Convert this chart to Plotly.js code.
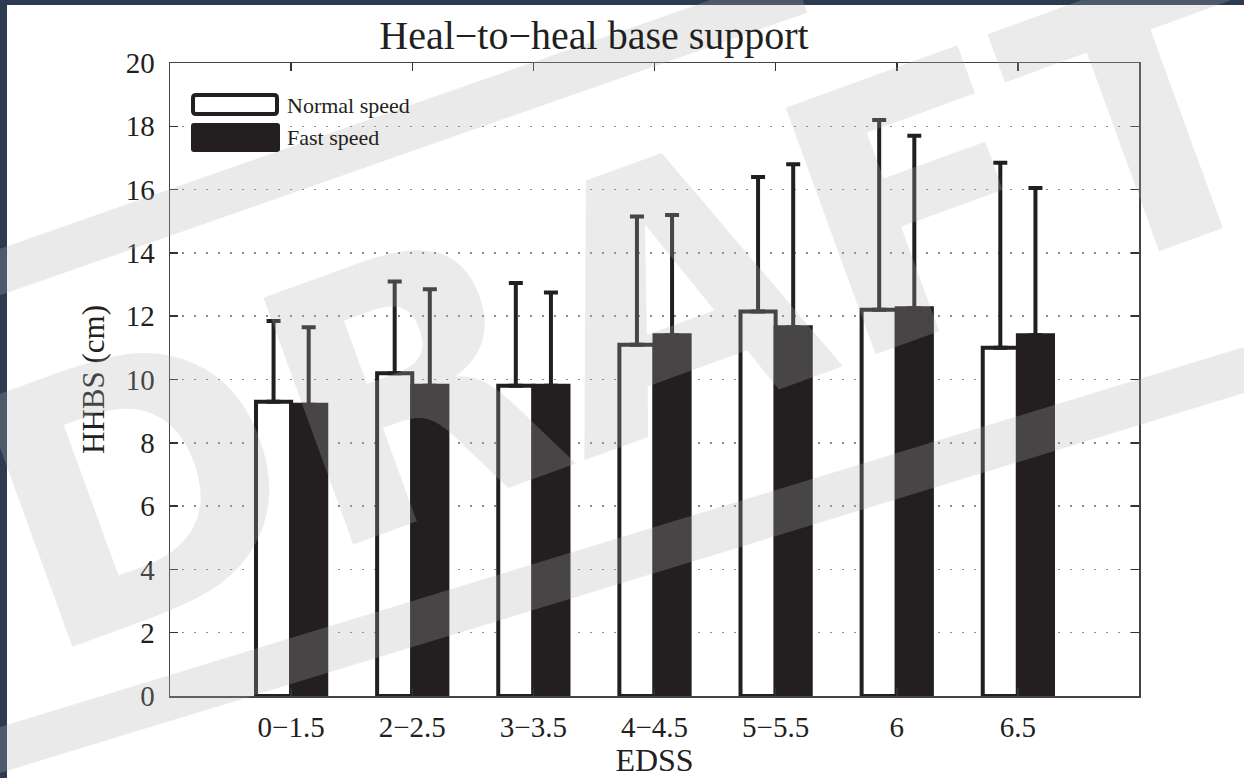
<!DOCTYPE html>
<html>
<head>
<meta charset="utf-8">
<script src="https://cdn.plot.ly/plotly-3.0.1.min.js"></script>
<style>
  html, body { margin: 0; padding: 0; background: #ffffff; }
  #chart { width: 1244px; height: 778px; }
</style>
</head>
<body>
<div id="chart"></div>
<script>
// EDSS groups on the x axis
const categories = ['0\u22121.5', '2\u22122.5', '3\u22123.5', '4\u22124.5', '5\u22125.5', '6', '6.5'];

// Heel-to-heel base support (cm), mean and SD per group
const normalMean = [9.3, 10.2, 9.8, 11.1, 12.15, 12.2, 11.0];
const normalSD   = [2.55, 2.9, 3.25, 4.05, 4.25, 6.0, 5.85];
const fastMean   = [9.2, 9.8, 9.8, 11.4, 11.65, 12.25, 11.4];
const fastSD     = [2.45, 3.05, 2.95, 3.8, 5.15, 5.45, 4.65];

const seriesNames = ['Normal speed', 'Fast speed'];

const INK = '#231f20';
const FONT = 'Liberation Serif, Times New Roman, serif';
const zeros = categories.map(() => 0);

// plot area in page pixels, used to place paper-referenced extras
const L = 170, R = 1139, T = 63, B = 696;
const px = x => (x - L) / (R - L);
const py = y => (B - y) / (B - T);

function roundedRect(x0, y0, x1, y1, r) {
  // rectangle with rounded corners, pixel input -> paper path
  const X = v => px(v).toFixed(5), Y = v => py(v).toFixed(5);
  return 'M' + X(x0 + r) + ',' + Y(y0) +
    ' L' + X(x1 - r) + ',' + Y(y0) + ' Q' + X(x1) + ',' + Y(y0) + ' ' + X(x1) + ',' + Y(y0 + r) +
    ' L' + X(x1) + ',' + Y(y1 - r) + ' Q' + X(x1) + ',' + Y(y1) + ' ' + X(x1 - r) + ',' + Y(y1) +
    ' L' + X(x0 + r) + ',' + Y(y1) + ' Q' + X(x0) + ',' + Y(y1) + ' ' + X(x0) + ',' + Y(y1 - r) +
    ' L' + X(x0) + ',' + Y(y0 + r) + ' Q' + X(x0) + ',' + Y(y0) + ' ' + X(x0 + r) + ',' + Y(y0) + ' Z';
}

const errStyle = { type: 'data', symmetric: false, color: INK, thickness: 4, width: 7 };

const traces = [
  {
    type: 'bar', name: seriesNames[0], x: categories, y: normalMean,
    marker: { color: '#ffffff', line: { color: INK, width: 4 } },
    error_y: Object.assign({ array: normalSD, arrayminus: zeros }, errStyle),
    showlegend: false, hoverinfo: 'skip'
  },
  {
    type: 'bar', name: seriesNames[1], x: categories, y: fastMean,
    marker: { color: INK, line: { color: INK, width: 4 } },
    error_y: Object.assign({ array: fastSD, arrayminus: zeros }, errStyle),
    showlegend: false, hoverinfo: 'skip'
  }
];

const WM = 'rgb(178,178,178)';
const WM_OPACITY = 0.26;

const shapes = [
  // dark page edge along the top and the left
  { type: 'rect', xref: 'paper', yref: 'paper', layer: 'below',
    x0: px(0), x1: px(1244), y0: py(5), y1: py(0), fillcolor: '#2c3a52', line: { width: 0 } },
  { type: 'rect', xref: 'paper', yref: 'paper', layer: 'below',
    x0: px(0), x1: px(7), y0: py(778), y1: py(0), fillcolor: '#2c3a52', line: { width: 0 } },
  // legend keys
  { type: 'path', xref: 'paper', yref: 'paper', layer: 'above',
    path: roundedRect(193, 95, 277, 114, 3), fillcolor: '#ffffff', line: { color: INK, width: 4 } },
  { type: 'path', xref: 'paper', yref: 'paper', layer: 'above',
    path: roundedRect(191, 123, 280, 152, 3), fillcolor: INK, line: { width: 0 } },
  // watermark frame bands
  { type: 'line', xref: 'paper', yref: 'paper', layer: 'above', opacity: WM_OPACITY,
    x0: px(-20), y0: py(279), x1: px(800), y1: py(-8), line: { color: WM, width: 44 } },
  { type: 'line', xref: 'paper', yref: 'paper', layer: 'above', opacity: WM_OPACITY,
    x0: px(-20), y0: py(756), x1: px(1264), y1: py(364), line: { color: WM, width: 44 } }
];

const annotations = [
  { xref: 'paper', yref: 'paper', x: px(285), y: py(105.6), xanchor: 'left', yanchor: 'middle',
    text: seriesNames[0], showarrow: false, font: { family: FONT, size: 22, color: INK } },
  { xref: 'paper', yref: 'paper', x: px(285), y: py(137.6), xanchor: 'left', yanchor: 'middle',
    text: seriesNames[1], showarrow: false, font: { family: FONT, size: 22, color: INK } },
  // DRAFT watermark
  { xref: 'paper', yref: 'paper', x: px(632), y: py(310), xanchor: 'center', yanchor: 'middle',
    text: 'DRAFT', showarrow: false, textangle: -20,
    font: { family: 'DejaVu Sans', size: 360, weight: 700, color: 'rgba(178,178,178,0.26)' } }
];

const axisCommon = {
  showline: true, linecolor: '#444', linewidth: 1.5,
  mirror: 'ticks', ticks: 'inside', ticklen: 8, tickwidth: 1.5, tickcolor: '#333',
  tickfont: { family: FONT, size: 29, color: INK },
  zeroline: false
};

const layout = {
  width: 1244, height: 778,
  paper_bgcolor: '#ffffff', plot_bgcolor: '#ffffff',
  margin: { l: L, r: 1244 - R, t: T, b: 778 - B, pad: 0 },
  barmode: 'group', bargap: 0.42, bargroupgap: 0,
  showlegend: false,
  title: {
    text: 'Heal\u2212to\u2212heal base support',
    font: { family: FONT, size: 40, color: INK },
    xref: 'paper', x: px(594), xanchor: 'center',
    yref: 'container', y: 1 - 35 / 778, yanchor: 'middle'
  },
  xaxis: Object.assign({}, axisCommon, {
    type: 'category', range: [-1, 7], showgrid: false,
    ticklabelstandoff: 5,
    title: { text: 'EDSS', font: { family: FONT, size: 32, color: INK }, standoff: 4 }
  }),
  yaxis: Object.assign({}, axisCommon, {
    range: [0, 20], dtick: 2, tick0: 0,
    showgrid: true, gridcolor: '#8a8a8a', gridwidth: 1.5, griddash: '1.5px,10.5px',
    ticklabelstandoff: 8,
    title: { text: 'HHBS (cm)', font: { family: FONT, size: 31, color: INK }, standoff: 12 }
  }),
  shapes: shapes,
  annotations: annotations
};

Plotly.newPlot('chart', traces, layout, { displayModeBar: false, staticPlot: true });
</script>
</body>
</html>
